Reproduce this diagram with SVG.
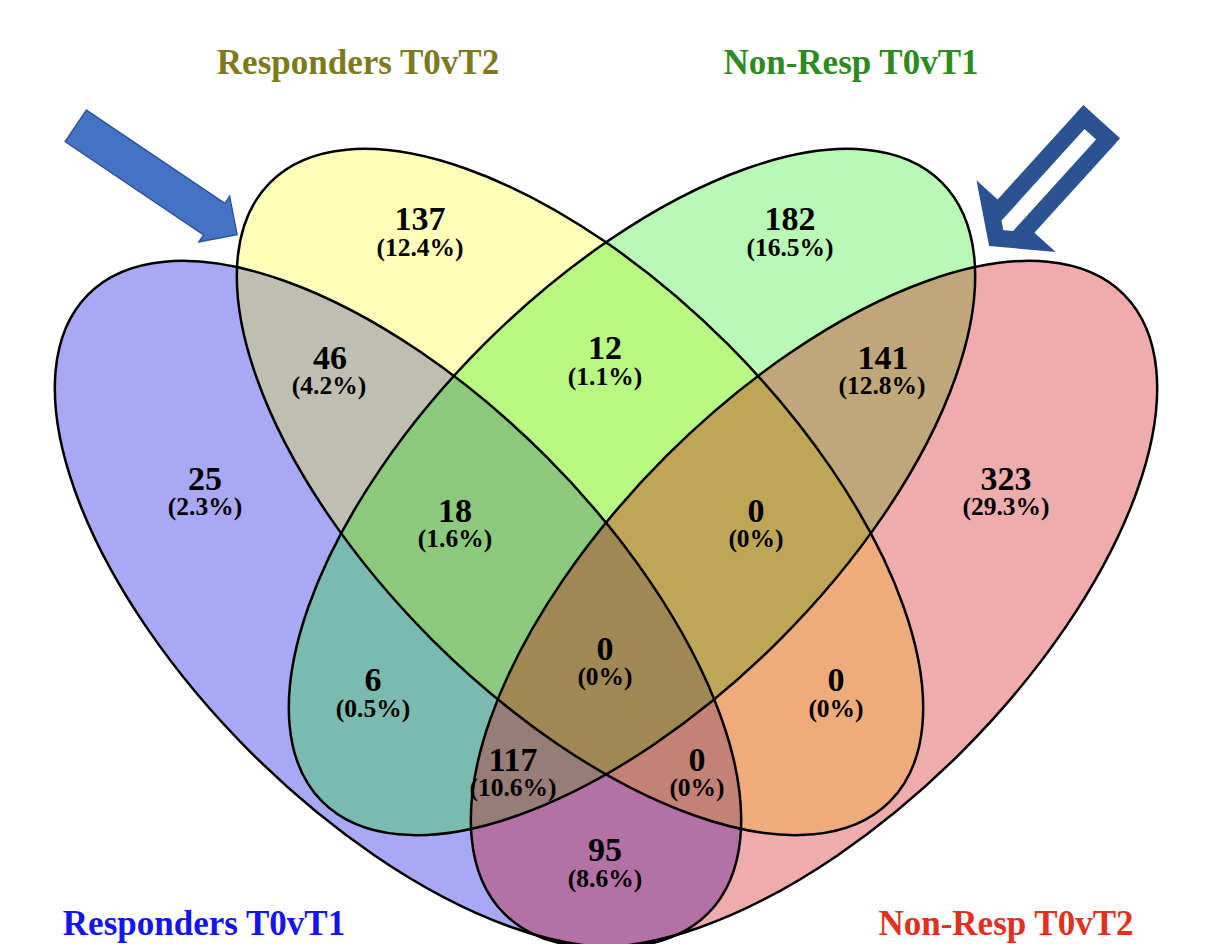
<svg xmlns="http://www.w3.org/2000/svg" width="1218" height="944" viewBox="0 0 1218 944">
<style>
.num{font-family:"Liberation Serif","Times New Roman",serif;font-weight:bold;font-size:34px;fill:#000;text-anchor:middle}
.pct{font-family:"Liberation Serif","Times New Roman",serif;font-weight:bold;font-size:25.5px;fill:#000;text-anchor:middle}
.title{font-family:"Liberation Serif","Times New Roman",serif;font-weight:bold;font-size:35px;text-anchor:middle}
.outline{fill:none;stroke:#000;stroke-width:2.5}
</style>
<rect width="1218" height="944" fill="#fff"/>
<g id="set-fills">
  <ellipse id="fill-A" cx="398" cy="604" rx="438" ry="209" transform="rotate(45 398 604)" fill="rgb(0,0,226)" fill-opacity="0.34"/>
  <ellipse id="fill-B" cx="580" cy="492" rx="438" ry="209" transform="rotate(45 580 492)" fill="rgb(252,252,0)" fill-opacity="0.28"/>
  <ellipse id="fill-C" cx="632" cy="492" rx="438" ry="209" transform="rotate(-45 632 492)" fill="rgb(14,231,0)" fill-opacity="0.29"/>
  <ellipse id="fill-D" cx="814" cy="604" rx="438" ry="209" transform="rotate(-45 814 604)" fill="rgb(206,0,0)" fill-opacity="0.325"/>
</g>
<g id="set-outlines">
  <ellipse id="set-A" class="outline" cx="398" cy="604" rx="438" ry="209" transform="rotate(45 398 604)"/>
  <ellipse id="set-B" class="outline" cx="580" cy="492" rx="438" ry="209" transform="rotate(45 580 492)"/>
  <ellipse id="set-C" class="outline" cx="632" cy="492" rx="438" ry="209" transform="rotate(-45 632 492)"/>
  <ellipse id="set-D" class="outline" cx="814" cy="604" rx="438" ry="209" transform="rotate(-45 814 604)"/>
</g>
<g id="titles">
  <text id="title-A" class="title" x="204" y="935" fill="#1414F0">Responders T0vT1</text>
  <text id="title-B" class="title" x="358" y="74" fill="#7E7A1C">Responders T0vT2</text>
  <text id="title-C" class="title" x="851" y="74" fill="#2E8A22">Non-Resp T0vT1</text>
  <text id="title-D" class="title" x="1006" y="935" fill="#E0301F">Non-Resp T0vT2</text>
</g>
<g id="region-B"><text class="num" x="420" y="230">137</text><text class="pct" x="420" y="256">(12.4%)</text></g>
<g id="region-C"><text class="num" x="790" y="230">182</text><text class="pct" x="790" y="256">(16.5%)</text></g>
<g id="region-AB"><text class="num" x="330" y="369">46</text><text class="pct" x="329" y="394">(4.2%)</text></g>
<g id="region-BC"><text class="num" x="605" y="359">12</text><text class="pct" x="605" y="385">(1.1%)</text></g>
<g id="region-CD"><text class="num" x="883" y="369">141</text><text class="pct" x="882" y="394">(12.8%)</text></g>
<g id="region-A"><text class="num" x="205" y="490">25</text><text class="pct" x="205" y="515">(2.3%)</text></g>
<g id="region-ABC"><text class="num" x="455" y="522">18</text><text class="pct" x="455" y="547">(1.6%)</text></g>
<g id="region-BCD"><text class="num" x="756" y="522">0</text><text class="pct" x="756" y="547">(0%)</text></g>
<g id="region-D"><text class="num" x="1006" y="490">323</text><text class="pct" x="1006" y="515">(29.3%)</text></g>
<g id="region-ABCD"><text class="num" x="605" y="660">0</text><text class="pct" x="605" y="685">(0%)</text></g>
<g id="region-AC"><text class="num" x="373" y="691">6</text><text class="pct" x="373" y="717">(0.5%)</text></g>
<g id="region-BD"><text class="num" x="836" y="691">0</text><text class="pct" x="836" y="717">(0%)</text></g>
<g id="region-ACD"><text class="num" x="513" y="771">117</text><text class="pct" x="513" y="796">(10.6%)</text></g>
<g id="region-ABD"><text class="num" x="697" y="771">0</text><text class="pct" x="697" y="796">(0%)</text></g>
<g id="region-AD"><text class="num" x="605" y="861">95</text><text class="pct" x="605" y="887">(8.6%)</text></g>
<g id="connectors">
  <polygon id="arrow-left" points="0,-19 167,-19 167,-27.5 194.5,0 167,27.5 167,19 0,19" transform="translate(75.8 125.8) rotate(34)" fill="#4472C4" stroke="#2F5597" stroke-width="1.5"/>
  <polygon id="arrow-right" points="8.5,-16.3 136,-16.3 136,-28 157,0 136,28 136,16.3 8.5,16.3" transform="translate(1101.7 121.7) rotate(132.2)" fill="#fff" stroke="#2B5291" stroke-width="17" stroke-linejoin="miter"/>
</g>
</svg>
